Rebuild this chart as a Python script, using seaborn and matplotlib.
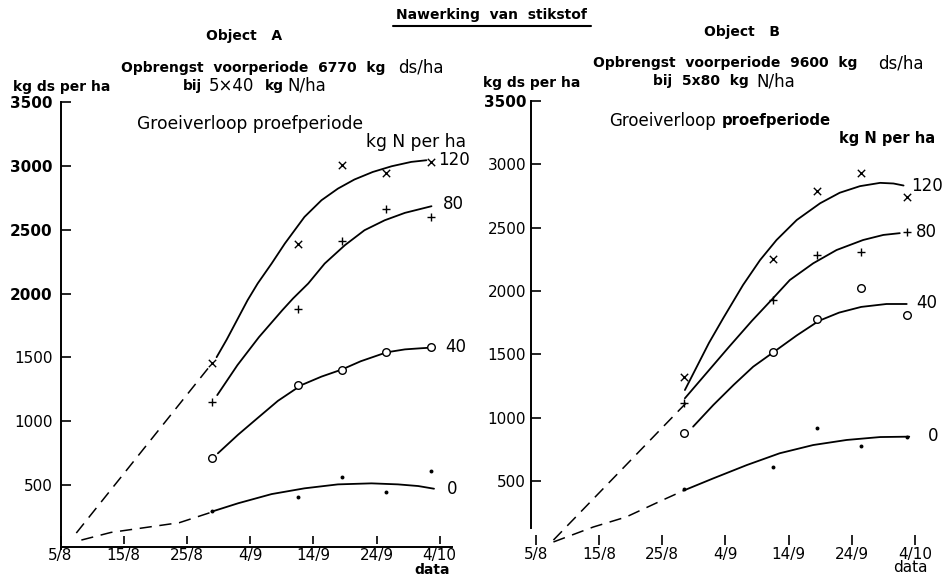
import numpy as np
import pandas as pd
import matplotlib
matplotlib.use("Agg")
import matplotlib.pyplot as plt
from matplotlib.lines import Line2D
import seaborn as sns

# ---------------- data ----------------
DATE_TICKS = [0, 10, 20, 30, 40, 50, 60]          # days after 5/8
DATE_LABELS = ["5/8", "15/8", "25/8", "4/9", "14/9", "24/9", "4/10"]
Y_TICKS = [500, 1000, 1500, 2000, 2500, 3000, 3500]
Y_LABELS = ["500", "1000", "1500", "2000", "2500", "3000", "3500"]
N_LEVELS = ["120", "80", "40", "0"]

# Object A - measured points
A_DAYS = [24, 37.5, 44.5, 51.5, 58.7]
A_N120 = [1455, 2387, 3005, 2942, 3028]
A_N80 = [1150, 1878, 2410, 2660, 2598]
A_N40 = [712, 1283, 1401, 1541, 1581]
A_N0 = [297, 407, 563, 446, 610]
# Object A - drawn growth curves
A_FIT120_DAYS = [24.7, 26.3, 29.6, 31.2, 33.4, 35.5, 38.6, 41.3, 43.9, 46.5, 49.4, 52.4, 55.5, 57.9]
A_FIT120 = [1502, 1640, 1948, 2079, 2235, 2392, 2600, 2731, 2822, 2893, 2952, 2997, 3031, 3044]
A_FIT80_DAYS = [24.8, 28, 31.4, 35.1, 36.8, 39.2, 41.8, 45.0, 48.1, 51.3, 54.5, 58.7]
A_FIT80 = [1205, 1440, 1659, 1870, 1962, 2079, 2235, 2379, 2496, 2574, 2632, 2684]
A_FIT40_DAYS = [24.9, 28.1, 31.3, 34.4, 38.1, 41.3, 44.5, 47.5, 51.6, 54.5, 57.1, 59.1]
A_FIT40 = [749, 895, 1030, 1160, 1283, 1350, 1405, 1470, 1540, 1563, 1572, 1578]
A_FIT0_DAYS = [23.9, 28.1, 33.4, 38.6, 43.9, 49.2, 53.4, 56.6, 59.1]
A_FIT0 = [292, 358, 430, 475, 506, 514, 506, 493, 472]
A_EXT_HI_DAYS = [2.5, 24]
A_EXT_HI = [125, 1455]
A_EXT_LO_DAYS = [3.3, 8, 13, 18.8, 24]
A_EXT_LO = [70, 130, 165, 206, 290]

# Object B - measured points
B_DAYS = [23.5, 37.5, 44.5, 51.5, 58.7]
B_N120 = [1322, 2252, 2790, 2930, 2745]
B_N80 = [1117, 1930, 2285, 2306, 2464]
B_N40 = [883, 1519, 1780, 2024, 1811]
B_N0 = [438, 612, 917, 780, 851]
# Object B - drawn growth curves
B_FIT120_DAYS = [23.6, 27.4, 29.7, 32.8, 35.5, 38.1, 41.3, 45.0, 48.1, 51.3, 54.5, 56.6, 58.2]
B_FIT120 = [1219, 1590, 1789, 2048, 2245, 2403, 2561, 2693, 2776, 2828, 2854, 2849, 2833]
B_FIT80_DAYS = [23.6, 30.5, 34.2, 37.3, 40.2, 43.9, 47.6, 51.8, 55.0, 57.6]
B_FIT80 = [1154, 1555, 1765, 1930, 2087, 2219, 2324, 2403, 2443, 2457]
B_FIT40_DAYS = [24.9, 28.1, 31.3, 34.4, 38.1, 41.3, 44.8, 48.0, 51.5, 55.5, 58.7]
B_FIT40 = [930, 1101, 1259, 1403, 1535, 1650, 1765, 1830, 1875, 1898, 1898]
B_FIT0_DAYS = [23.6, 28.1, 33.4, 38.6, 43.9, 49.2, 54.5, 59.1]
B_FIT0 = [430, 522, 627, 720, 785, 825, 848, 851]
B_EXT_HI_DAYS = [2.8, 23.8]
B_EXT_HI = [35, 1117]
B_EXT_LO_DAYS = [2.8, 9.1, 14.3, 20.1, 23.6]
B_EXT_LO = [20, 138, 217, 351, 430]

# label positions of the N levels (day, value)
A_LABEL_POS = [(59.7, 3044), (60.5, 2700), (60.8, 1581), (61.1, 470)]
B_LABEL_POS = [(59.4, 2830), (60.2, 2467), (60.2, 1906), (62.1, 856)]

# ---------------- figure ----------------
sns.set_theme(style="white")
plt.rcParams["font.family"] = ["DejaVu Sans"]
W, H = 952, 577
fig = plt.figure(figsize=(W / 100, H / 100), dpi=100)
fig.patch.set_facecolor("white")


def add_axes_px(left, top, right, bottom):
    return fig.add_axes([left / W, 1 - bottom / H, (right - left) / W, (bottom - top) / H])


def ftext(x, y, s, size, bold=False, ha="left"):
    fig.text(x / W, 1 - y / H, s, ha=ha, va="center", fontsize=size,
             fontweight="bold" if bold else "normal", color="black")


LW = 1.3
DASH = (0, (8, 5))


def draw_panel(ax, days, series, fits, ext_hi, ext_lo, label_pos):
    markers = [("x", 28, 1.0), ("+", 38, 1.0), ("o", 30, 1.0), (".", 20, 0)]
    for (fx, fy) in fits:
        sns.lineplot(x=fx, y=fy, ax=ax, color="black", lw=LW, sort=False, estimator=None)
    for (ex, ey) in (ext_hi, ext_lo):
        sns.lineplot(x=ex, y=ey, ax=ax, color="black", lw=1.1, sort=False,
                     estimator=None, linestyle=DASH)
    for vals, (m, s, lw) in zip(series, markers):
        if m == "o":
            sns.scatterplot(x=days, y=vals, ax=ax, marker="o", s=s, facecolor="white",
                            edgecolor="black", linewidth=lw, zorder=5)
        elif m == ".":
            sns.scatterplot(x=days, y=vals, ax=ax, marker="o", s=8, color="black",
                            linewidth=0, zorder=5)
        else:
            sns.scatterplot(x=days, y=vals, ax=ax, marker=m, s=s, color="black",
                            linewidth=lw, zorder=5)
    for lab, (dx, dy) in zip(N_LEVELS, label_pos):
        ax.text(dx, dy, lab, ha="left", va="center", fontsize=12, color="black")
    ax.set_ylim(0, 3500)
    ax.set_xlabel("")
    ax.set_ylabel("")
    ax.set_facecolor("none")
    ax.spines["top"].set_visible(False)
    ax.spines["right"].set_visible(False)
    for sp in ax.spines.values():
        sp.set_color("black")
        sp.set_linewidth(1.4)


# ---- Object A ----
axA = add_axes_px(60.5, 102, 60.5 + 62 * 6.32, 549)
axA.set_xlim(0, 62)
draw_panel(axA, A_DAYS, [A_N120, A_N80, A_N40, A_N0],
           [(A_FIT120_DAYS, A_FIT120), (A_FIT80_DAYS, A_FIT80),
            (A_FIT40_DAYS, A_FIT40), (A_FIT0_DAYS, A_FIT0)],
           (A_EXT_HI_DAYS, A_EXT_HI), (A_EXT_LO_DAYS, A_EXT_LO), A_LABEL_POS)
axA.spines["bottom"].set_position(("data", 15))
axA.set_yticks(Y_TICKS, Y_LABELS)
axA.set_xticks(DATE_TICKS, DATE_LABELS)
axA.tick_params(axis="y", direction="in", length=7, width=1.2, pad=5.5, labelsize=11, colors="black", left=True)
axA.tick_params(axis="x", direction="in", length=8, width=1.2, pad=0.5, labelsize=11, colors="black", bottom=True)
for t in axA.get_yticklabels():
    if t.get_text() in ("2000", "2500", "3000", "3500"):
        t.set_fontweight("bold")
for t in axA.get_xticklabels():
    t.set_bbox(dict(boxstyle="square,pad=0.25", fc="white", ec="none"))

# ---- Object B ----
axB = add_axes_px(531, 101, 531 + 62.75 * 6.32, 544.5)
axB.set_xlim(-0.75, 62)
draw_panel(axB, B_DAYS, [B_N120, B_N80, B_N40, B_N0],
           [(B_FIT120_DAYS, B_FIT120), (B_FIT80_DAYS, B_FIT80),
            (B_FIT40_DAYS, B_FIT40), (B_FIT0_DAYS, B_FIT0)],
           (B_EXT_HI_DAYS, B_EXT_HI), (B_EXT_LO_DAYS, B_EXT_LO), B_LABEL_POS)
axB.spines["bottom"].set_visible(False)
axB.spines["left"].set_bounds(130, 3500)
axB.set_yticks(Y_TICKS, Y_LABELS)
axB.set_xticks(DATE_TICKS, DATE_LABELS)
axB.tick_params(axis="y", direction="in", length=7, width=1.2, pad=3.5, labelsize=11, colors="black", left=True)
axB.tick_params(axis="x", direction="in", length=7, width=1.2, pad=1.5, labelsize=11, colors="black", bottom=True)
for t in axB.get_yticklabels():
    if t.get_text() == "3500":
        t.set_fontweight("bold")

# ---------------- texts ----------------
ftext(491, 15, "Nawerking  van  stikstof", 10, bold=True, ha="center")
fig.add_artist(Line2D([393 / W, 591 / W], [1 - 26 / H, 1 - 26 / H], color="black", lw=1.5))

ftext(244, 36, "Object   A", 10, bold=True, ha="center")
ftext(121, 68, "Opbrengst  voorperiode  6770  kg", 10, bold=True)
ftext(398, 68, "ds/ha", 12)
ftext(183, 86, "bij", 10, bold=True)
ftext(209, 86, "5×40", 12)
ftext(265, 86, "kg", 10, bold=True)
ftext(287, 86, "N/ha", 12)
ftext(13, 87, "kg ds per ha", 10, bold=True)
ftext(137, 124, "Groeiverloop proefperiode", 12.3)
ftext(366, 142, "kg N per ha", 12.3)
ftext(432, 570, "data", 10, bold=True, ha="center")

ftext(742, 32, "Object   B", 10, bold=True, ha="center")
ftext(593, 63, "Opbrengst  voorperiode  9600  kg", 10, bold=True)
ftext(878, 63, "ds/ha", 12)
ftext(653, 81, "bij  5x80  kg", 10, bold=True)
ftext(756, 81, "N/ha", 12)
ftext(483, 83, "kg ds per ha", 10, bold=True)
ftext(609, 121, "Groeiverloop", 12)
ftext(722, 121, "proefperiode", 10.7, bold=True)
ftext(839, 139, "kg N per ha", 10.5, bold=True)
ftext(910, 568, "data", 11, ha="center")

fig.savefig("out.png", dpi=100, facecolor="white")
